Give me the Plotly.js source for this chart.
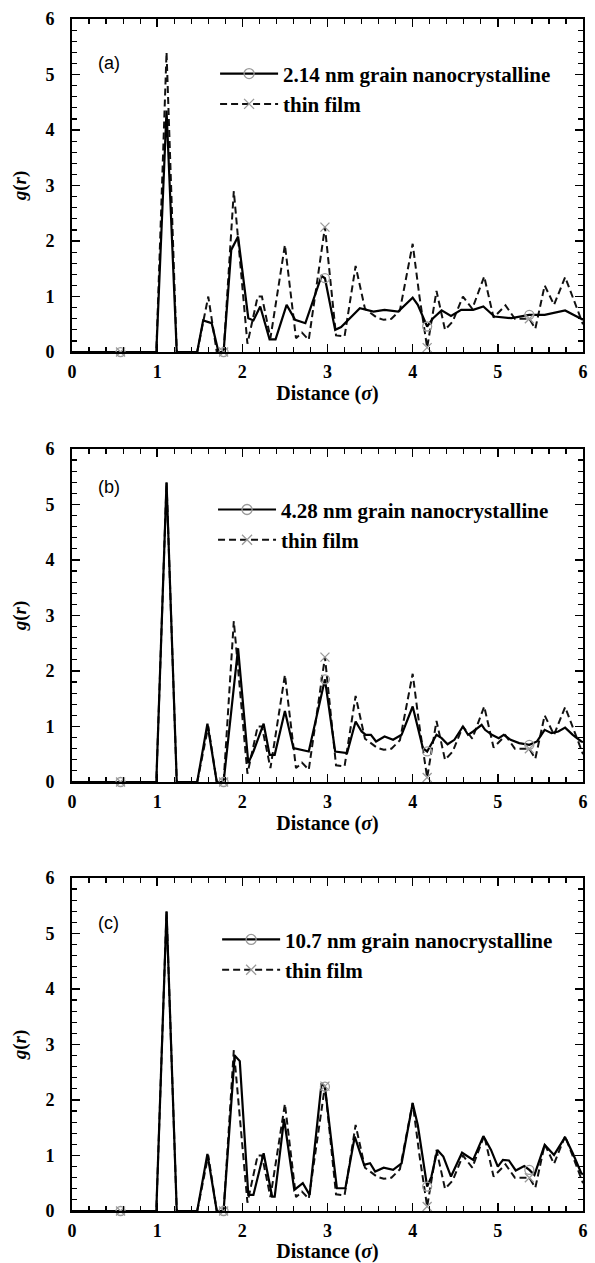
<!DOCTYPE html>
<html><head><meta charset="utf-8">
<script src="https://cdn.plot.ly/plotly-3.0.1.min.js"></script>
<style>html,body{margin:0;padding:0;background:#fff}</style>
</head><body><div id="chart" style="width:595px;height:1263px"></div>
<script>
// ---- data ----
const thinX = [0, 0.57, 0.99, 1.11, 1.23, 1.47, 1.60, 1.70, 1.78, 1.90, 2.06, 2.18, 2.23, 2.33, 2.50, 2.63, 2.70, 2.78, 2.97, 3.10, 3.20, 3.33, 3.44, 3.58, 3.66, 3.75, 3.85, 4.00, 4.08, 4.17, 4.28, 4.38, 4.47, 4.59, 4.70, 4.84, 4.95, 5.09, 5.20, 5.37, 5.44, 5.55, 5.66, 5.79, 5.98, 6.0];
const thinY = [0, 0, 0, 5.4, 0, 0, 1.0, 0, 0, 2.9, 0.15, 1.0, 1.0, 0.25, 1.93, 0.25, 0.35, 0.22, 2.25, 0.3, 0.28, 1.55, 0.78, 0.62, 0.58, 0.6, 0.75, 1.95, 1.0, 0.08, 1.1, 0.4, 0.55, 1.0, 0.78, 1.36, 0.62, 0.84, 0.6, 0.6, 0.42, 1.2, 0.85, 1.35, 0.55, 0.5];

const ncAX = [0, 0.57, 0.99, 1.11, 1.23, 1.47, 1.54, 1.64, 1.72, 1.78, 1.87, 1.95, 2.07, 2.13, 2.21, 2.32, 2.39, 2.52, 2.62, 2.74, 2.93, 2.97, 3.09, 3.16, 3.38, 3.54, 3.67, 3.83, 4.00, 4.06, 4.17, 4.24, 4.34, 4.45, 4.57, 4.71, 4.83, 4.96, 5.16, 5.37, 5.55, 5.79, 6.0];
const ncAY = [0, 0, 0, 4.35, 0, 0, 0.57, 0.52, 0, 0, 1.84, 2.08, 0.61, 0.57, 0.82, 0.23, 0.23, 0.85, 0.58, 0.52, 1.37, 1.33, 0.40, 0.45, 0.79, 0.73, 0.76, 0.73, 0.98, 0.85, 0.46, 0.61, 0.75, 0.65, 0.76, 0.76, 0.82, 0.64, 0.61, 0.67, 0.67, 0.75, 0.58];

const ncBX = [0, 0.57, 0.99, 1.11, 1.23, 1.47, 1.59, 1.70, 1.78, 1.95, 2.07, 2.13, 2.25, 2.32, 2.38, 2.50, 2.60, 2.78, 2.97, 3.09, 3.23, 3.33, 3.40, 3.45, 3.51, 3.57, 3.67, 3.77, 3.87, 4.00, 4.06, 4.12, 4.17, 4.28, 4.34, 4.41, 4.49, 4.59, 4.65, 4.71, 4.81, 4.85, 4.93, 5.01, 5.07, 5.15, 5.25, 5.37, 5.46, 5.55, 5.63, 5.71, 5.79, 5.88, 5.98, 6.0];
const ncBY = [0, 0, 0, 5.4, 0, 0, 1.05, 0, 0, 2.41, 0.34, 0.55, 1.05, 0.49, 0.49, 1.28, 0.61, 0.55, 1.85, 0.55, 0.52, 1.09, 0.91, 0.85, 0.85, 0.73, 0.82, 0.76, 0.85, 1.36, 1.0, 0.61, 0.55, 0.85, 0.79, 0.68, 0.76, 1.0, 0.85, 0.91, 1.03, 0.94, 0.85, 0.79, 0.85, 0.76, 0.70, 0.67, 0.73, 0.94, 0.88, 0.91, 0.98, 0.85, 0.73, 0.72];

const ncCX = [0, 0.57, 0.99, 1.11, 1.23, 1.47, 1.59, 1.70, 1.78, 1.91, 1.97, 2.07, 2.13, 2.25, 2.35, 2.38, 2.49, 2.61, 2.71, 2.79, 2.93, 2.97, 3.11, 3.21, 3.32, 3.43, 3.50, 3.56, 3.66, 3.77, 3.87, 4.00, 4.06, 4.17, 4.22, 4.29, 4.36, 4.45, 4.58, 4.71, 4.83, 4.92, 5.00, 5.06, 5.13, 5.21, 5.31, 5.37, 5.43, 5.55, 5.66, 5.79, 5.88, 5.98, 6.0];
const ncCY = [0, 0, 0, 5.4, 0, 0, 1.03, 0, 0, 2.8, 2.7, 0.29, 0.29, 1.04, 0.26, 0.26, 1.66, 0.38, 0.50, 0.29, 2.30, 2.24, 0.41, 0.41, 1.34, 0.83, 0.86, 0.71, 0.78, 0.74, 0.86, 1.94, 1.55, 0.44, 0.62, 1.1, 0.98, 0.62, 1.05, 0.92, 1.35, 1.1, 0.80, 0.92, 0.91, 0.73, 0.81, 0.74, 0.65, 1.19, 1.01, 1.33, 1.04, 0.68, 0.66];

const markerX = [0.57, 1.78, 2.97, 4.17, 5.37];
const panelLabels = ['(a)', '(b)', '(c)'];
const ncNames = ['2.14 nm grain nanocrystalline', '4.28 nm grain nanocrystalline', '10.7 nm grain nanocrystalline'];
const thinName = 'thin film';
const xTitle = 'Distance (<i>σ</i>)';
const yTitle = '<i>g</i>(<i>r</i>)';

// ---- build ----
const ncSeries = [[ncAX, ncAY], [ncBX, ncBY], [ncCX, ncCY]];
const serif = 'Liberation Serif, Times New Roman, serif';
const grey = '#9a9a9a';
const solidLine = {color: '#000', width: 2.2};
const dashLine = {color: '#111', width: 2, dash: '7px,4px'};

function pick(xs, ys, xv) {
  const out = [];
  xv.forEach(v => {
    const i = xs.findIndex(a => Math.abs(a - v) < 1e-9);
    if (i >= 0) out.push(ys[i]);
  });
  return out;
}

const suffix = ['', '2', '3'];
const legendIds = ['legend', 'legend2', 'legend3'];
const traces = [];
ncSeries.forEach((s, i) => {
  const xa = 'x' + suffix[i], ya = 'y' + suffix[i];
  traces.push({x: thinX, y: thinY, xaxis: xa, yaxis: ya, mode: 'lines', line: dashLine, showlegend: false, hoverinfo: 'skip'});
  traces.push({x: s[0], y: s[1], xaxis: xa, yaxis: ya, mode: 'lines', line: solidLine, showlegend: false, hoverinfo: 'skip'});
  traces.push({x: markerX, y: pick(thinX, thinY, markerX), xaxis: xa, yaxis: ya, mode: 'markers', showlegend: false,
    marker: {symbol: 'x-thin-open', size: 9, color: grey, line: {color: grey, width: 1.3}}, cliponaxis: false});
  traces.push({x: markerX, y: pick(s[0], s[1], markerX), xaxis: xa, yaxis: ya, mode: 'markers', showlegend: false,
    marker: {symbol: 'circle-open', size: 9, color: grey, line: {color: grey, width: 1.3}}, cliponaxis: false});
  // legend entries
  traces.push({x: [null], y: [null], xaxis: xa, yaxis: ya, mode: 'lines+markers', name: ncNames[i], legend: legendIds[i],
    line: solidLine, marker: {symbol: 'circle-open', size: 10, color: grey, line: {color: grey, width: 1.3}}});
  traces.push({x: [null], y: [null], xaxis: xa, yaxis: ya, mode: 'lines+markers', name: thinName, legend: legendIds[i],
    line: dashLine, marker: {symbol: 'x-thin-open', size: 10, color: grey, line: {color: grey, width: 1.3}}});
});

const tickFont = {family: serif, size: 18, color: '#000', weight: 'bold'};
const titleFont = {family: serif, size: 20, color: '#000', weight: 'bold'};
function xAxis(anchor) {
  return {
    anchor: anchor, range: [0, 6], tickmode: 'linear', tick0: 0, dtick: 1,
    ticks: 'inside', ticklen: 8, tickwidth: 1.5, tickcolor: '#000',
    minor: {ticks: 'inside', dtick: 0.2, ticklen: 5, tickwidth: 1.2, tickcolor: '#000', showgrid: false},
    showline: true, linecolor: '#000', linewidth: 1.8, mirror: 'allticks',
    showgrid: false, zeroline: false, tickfont: tickFont, ticklabelstandoff: 3,
    title: {text: xTitle, font: titleFont, standoff: 3},
    fixedrange: true
  };
}
function yAxis(anchor, domain) {
  return {
    anchor: anchor, domain: domain, range: [0, 6], tickmode: 'linear', tick0: 0, dtick: 1,
    ticks: 'inside', ticklen: 8, tickwidth: 1.5, tickcolor: '#000',
    minor: {ticks: 'inside', dtick: 0.2, ticklen: 5, tickwidth: 1.2, tickcolor: '#000', showgrid: false},
    showline: true, linecolor: '#000', linewidth: 1.8, mirror: 'allticks',
    showgrid: false, zeroline: false, tickfont: tickFont, ticklabelstandoff: 12,
    title: {text: yTitle, font: {family: serif, size: 19, color: '#000', weight: 'bold'}, standoff: 14},
    fixedrange: true
  };
}
const legFont = {family: serif, size: 21, color: '#000', weight: 'bold'};
function leg(x, y) {
  return {x: x, y: y, xanchor: 'left', yanchor: 'top', font: legFont, bgcolor: 'rgba(0,0,0,0)', borderwidth: 0,
    tracegroupgap: 0, itemwidth: 58};
}

const annFont = {family: 'Liberation Sans, Arial, sans-serif', size: 18, color: '#000'};
const layout = {
  width: 595, height: 1263,
  margin: {l: 72, r: 12, t: 19, b: 52},
  paper_bgcolor: '#fff', plot_bgcolor: '#fff',
  showlegend: true,
  xaxis: xAxis('y'), yaxis: yAxis('x', [0.7206, 1]),
  xaxis2: xAxis('y2'), yaxis2: yAxis('x2', [0.3599, 0.6393]),
  xaxis3: xAxis('y3'), yaxis3: yAxis('x3', [0, 0.2794]),
  legend: leg(0.280, 0.9711),
  legend2: leg(0.276, 0.6054),
  legend3: leg(0.284, 0.2447),
  annotations: [
    {xref: 'x', yref: 'y', x: 0.28, y: 5.2, xanchor: 'left', yanchor: 'middle', text: panelLabels[0], showarrow: false, font: annFont},
    {xref: 'x2', yref: 'y2', x: 0.28, y: 5.32, xanchor: 'left', yanchor: 'middle', text: panelLabels[1], showarrow: false, font: annFont},
    {xref: 'x3', yref: 'y3', x: 0.28, y: 5.19, xanchor: 'left', yanchor: 'middle', text: panelLabels[2], showarrow: false, font: annFont}
  ]
};

Plotly.newPlot('chart', traces, layout, {displayModeBar: false, staticPlot: true});
</script>
</body></html>
